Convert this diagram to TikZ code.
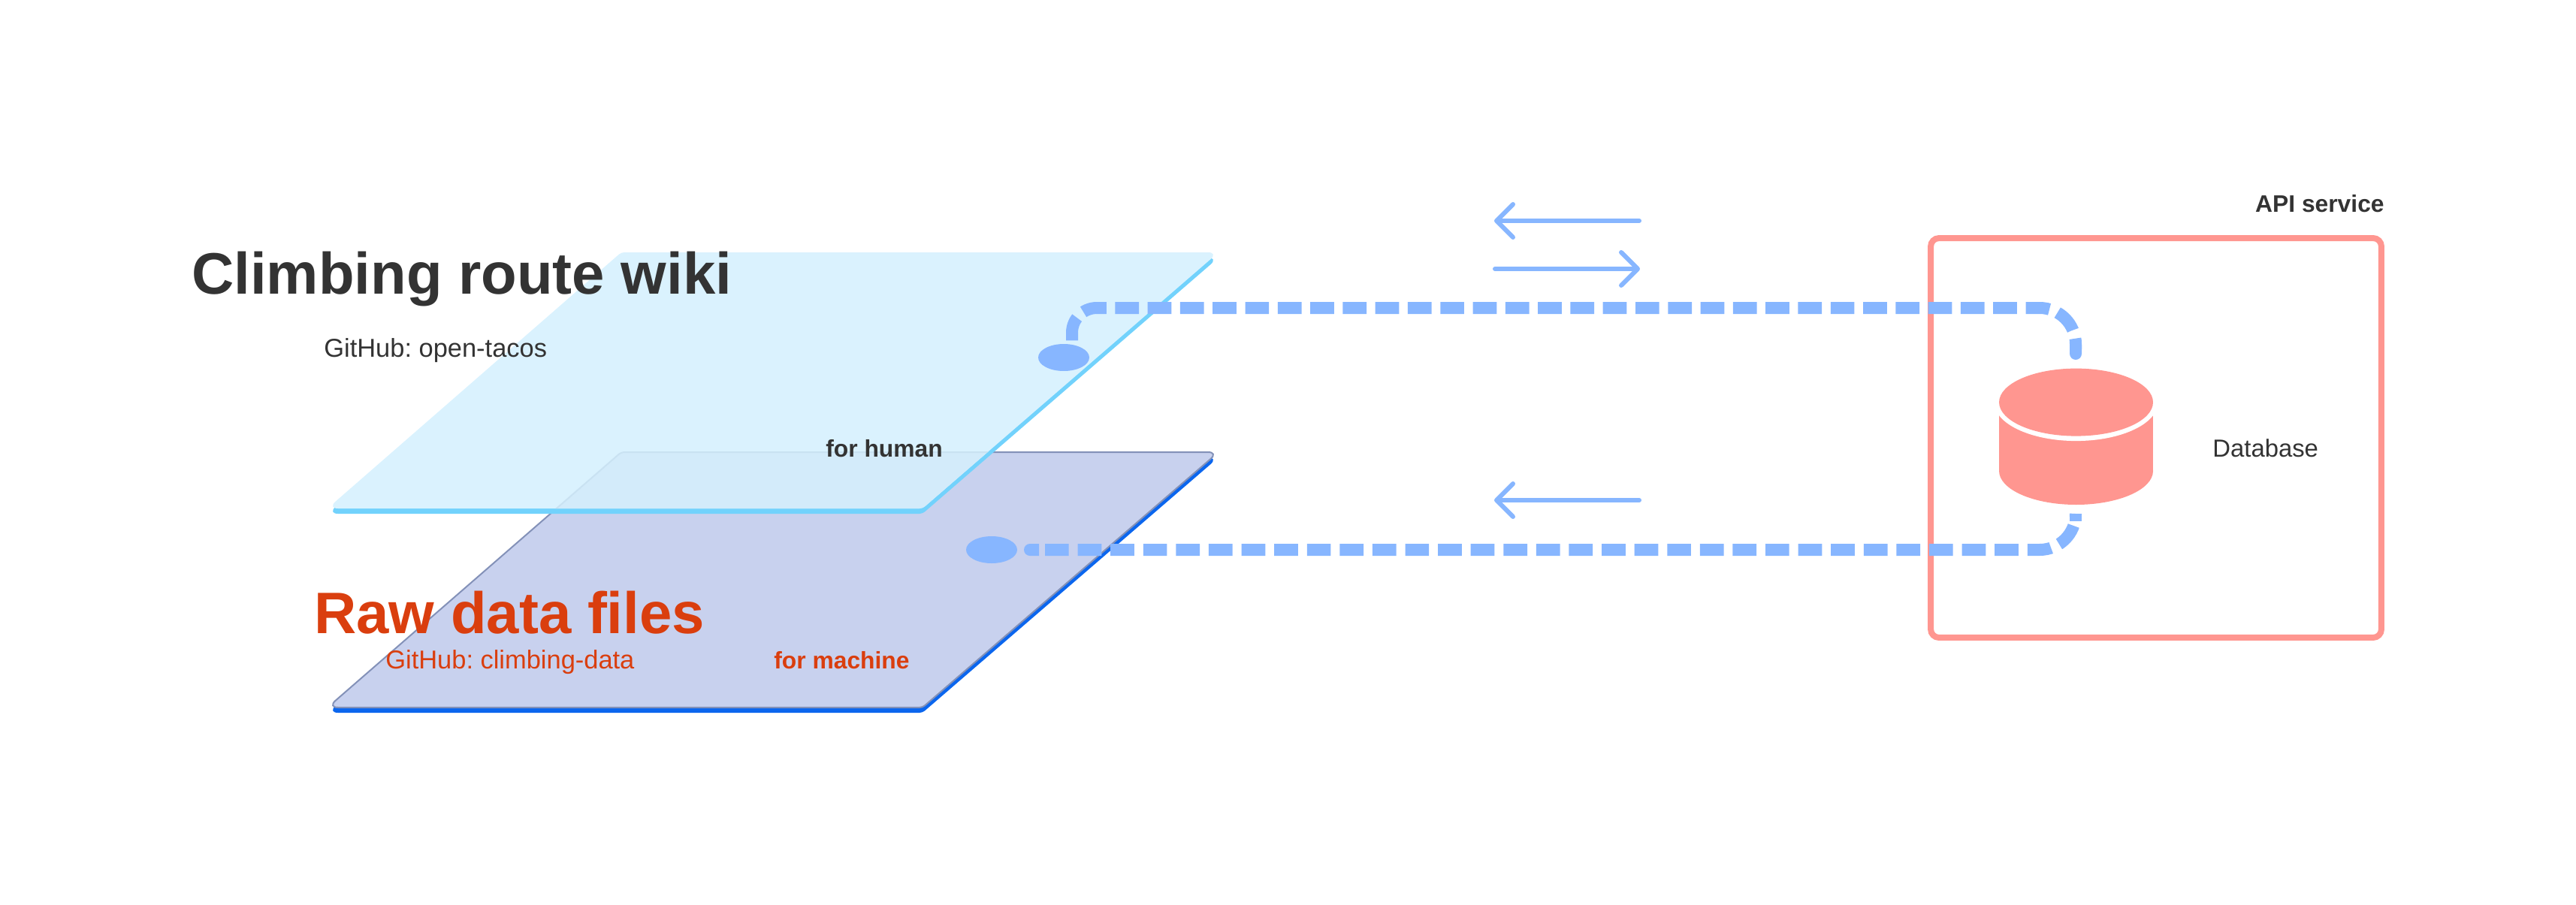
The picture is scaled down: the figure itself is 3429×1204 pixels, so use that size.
\documentclass[tikz,border=0pt]{standalone}
\usepackage{fontspec}
\setmainfont{Liberation Sans}
\frenchspacing
\usetikzlibrary{arrows.meta,shapes.geometric}
\definecolor{linkblue}{HTML}{87B6FF}
\definecolor{dbred}{HTML}{FF9690}
\definecolor{humanface}{HTML}{DAF2FE}
\definecolor{humanedge}{HTML}{72D2FC}
\definecolor{overlapface}{HTML}{D3EBFA}
\definecolor{overlapline}{HTML}{C9E2F2}
\definecolor{machineface}{HTML}{C8D1EE}
\definecolor{machineline}{HTML}{8391B8}
\definecolor{machineedge}{HTML}{0B66EE}
\definecolor{darktext}{HTML}{333333}
\definecolor{rawtext}{HTML}{DA3E0E}
\newcommand{\planeoutline}[1]{(#1NW) [rounded corners=.28cm] -- (#1NE) [rounded corners=.08cm] -- (#1SE) [rounded corners=.28cm] -- (#1SW) [rounded corners=.08cm] -- cycle}
\tikzset{
    bigtitle/.style={anchor=base west,inner sep=0pt,font=\fontsize{44.35}{50}\selectfont\bfseries},
    plainlabel/.style={anchor=base west,inner sep=0pt,font=\fontsize{19.6}{24}\selectfont},
    boldlabel/.style={anchor=base west,inner sep=0pt,font=\fontsize{18.1}{24}\selectfont\bfseries},
    datalink/.style={draw=linkblue,line width=.32cm,dash pattern=on .634cm off .232cm},
    linkstub/.style={draw=linkblue,line width=.32cm},
    flowarrow/.style={draw=linkblue,line width=.12cm,line cap=round,-{Straight Barb[round,length=.44cm,width=.88cm]}},
    portdot/.style={ellipse,fill=linkblue,inner sep=0pt,minimum width=1.36cm,minimum height=.72cm},
    dbtop/.style={ellipse,fill=dbred,inner sep=0pt,minimum width=4.1cm,minimum height=1.8cm},
    apibox/.style={draw=dbred,line width=.16cm,rounded corners=.22cm,inner sep=0pt,minimum width=12cm,minimum height=10.64cm}
}
\begin{document}
\begin{tikzpicture}[x=.02cm,y=-.02cm]
    \useasboundingbox (0,0) rectangle (3429,1204);
    \coordinate (machineNW) at (827,602);
    \coordinate (machineNE) at (1622,602);
    \coordinate (machineSE) at (1228,942);
    \coordinate (machineSW) at (436,942);
    \coordinate (humanNW) at (827,336);
    \coordinate (humanNE) at (1622,336);
    \coordinate (humanSE) at (1228,677);
    \coordinate (humanSW) at (436,677);
    \fill[machineedge,transform canvas={yshift=-.14cm}] \planeoutline{machine};
    \draw[fill=machineface,draw=machineline,line width=.04cm] \planeoutline{machine};
    \fill[humanedge,transform canvas={yshift=-.14cm}] \planeoutline{human};
    \fill[humanface] \planeoutline{human};
    \begin{scope}
        \clip \planeoutline{human};
        \draw[fill=overlapface,draw=overlapline,line width=.04cm] \planeoutline{machine};
    \end{scope}
    \node[apibox] (api) at (2870,583) {};
    \node[anchor=base east,inner sep=0pt,text=darktext,font=\fontsize{18.1}{24}\selectfont\bfseries] (apilabel) at (3174,282) {API service};
    \fill[dbred] (2661,540) rectangle (2866,627);
    \fill[dbred] (2763.5,627) ellipse [x radius=102.5,y radius=45];
    \fill[white] (2763.5,535.6) ellipse [x radius=109,y radius=51.5];
    \node[dbtop] (dbhead) at (2763.5,535.6) {};
    \node[plainlabel,text=darktext,font=\fontsize{18.7}{24}\selectfont] (dblabel) at (2945,608) {Database};
    \node[portdot] (humandot) at (1416,476) {};
    \node[portdot] (machinedot) at (1320,732) {};
    \coordinate (humanport) at (1427,465);
    \coordinate (machinestub) at (1363,732);
    \coordinate (machinestubend) at (1378,732);
    \coordinate (machineport) at (1391,732);
    \coordinate (dbin) at (2763,465);
    \coordinate (dbinstub) at (2763,472);
    \coordinate (dbinend) at (2763,479);
    \coordinate (dbout) at (2763,684);
    \coordinate (dboutstub) at (2763,694);
    \draw[datalink,dash phase=.634cm] (humanport) [rounded corners=.66cm] -- (1427,410) [rounded corners=.96cm] -- (2763,410) -- (dbin);
    \draw[linkstub,-{Round Cap[]}] (dbinstub) -- (dbinend);
    \draw[linkstub,{Round Cap[]}-] (machinestub) -- (machinestubend);
    \draw[datalink,dash pattern=on .634cm off .238cm,rounded corners=.96cm] (machineport) -- (2763,732) -- (dbout);
    \draw[linkstub] (dboutstub) -- (dbout);
    \coordinate (pullAstart) at (2182,294);
    \coordinate (pullAend) at (1989,294);
    \coordinate (pushstart) at (1990,358);
    \coordinate (pushend) at (2183,358);
    \coordinate (pullBstart) at (2182,666);
    \coordinate (pullBend) at (1989,666);
    \draw[flowarrow] (pullAstart) -- (pullAend);
    \draw[flowarrow] (pushstart) -- (pushend);
    \draw[flowarrow] (pullBstart) -- (pullBend);
    \node[bigtitle,text=darktext] (wikititle) at (255,391) {Climbing route wiki};
    \node[plainlabel,text=darktext] (wikirepo) at (431,475) {GitHub: open-tacos};
    \node[boldlabel,text=darktext] (humanlabel) at (1099,608) {for human};
    \node[bigtitle,text=rawtext] (rawtitle) at (418,843) {Raw data files};
    \node[plainlabel,text=rawtext] (rawrepo) at (513,890) {GitHub: climbing-data};
    \node[boldlabel,text=rawtext] (machinelabel) at (1030,890) {for machine};
\end{tikzpicture}
\end{document}
